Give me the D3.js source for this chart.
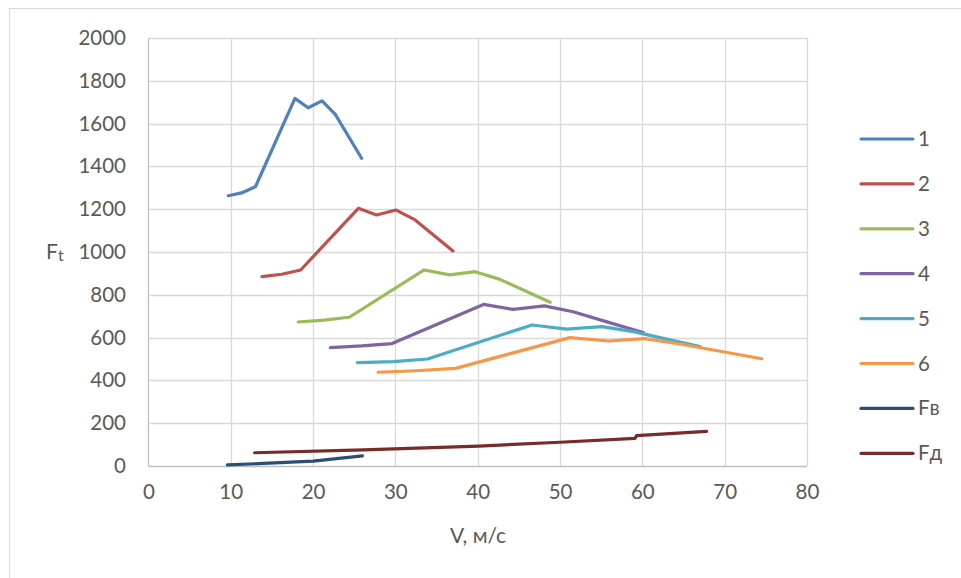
<!DOCTYPE html>
<html>
<head>
<meta charset="utf-8">
<script src="https://cdnjs.cloudflare.com/ajax/libs/d3/7.8.5/d3.min.js"></script>
<style>
  body { margin: 0; background: #fff; }
  text { font-family: Lato, "Open Sans", sans-serif; fill: #595959; }
</style>
</head>
<body>
<div id="chart"></div>
<script>
// series values: [V, Ft]
var s1 = [[9.7,1263],[11.3,1276],[13.0,1305],[17.8,1718],[19.4,1674],[21.1,1706],[22.7,1643],[25.9,1438]];
var s2 = [[13.8,885],[16.2,896],[18.5,916],[25.5,1204],[27.7,1173],[30.1,1196],[32.4,1150],[37.0,1005]];
var s3 = [[18.2,673],[21.3,682],[24.4,695],[33.5,916],[36.6,893],[39.7,908],[42.7,872],[48.8,765]];
var s4 = [[22.1,553],[25.9,561],[29.6,572],[40.7,755],[44.3,732],[48.1,748],[51.6,721],[55.9,671],[60.1,624]];
var s5 = [[25.4,483],[29.8,488],[33.9,500],[46.6,659],[50.8,640],[55.1,651],[58.9,628],[67.0,558]];
var s6 = [[27.9,438],[32.5,445],[37.3,456],[51.2,600],[55.9,584],[60.3,595],[64.6,570],[74.5,501]];
var sFv = [[9.6,5],[14,12],[20,23],[26.0,47]];
var sFd = [[12.9,62],[26.1,75],[40.1,93],[50.0,111],[59.1,129],[59.3,142],[67.8,162]];

var seriesNames = ["1","2","3","4","5","6","Fв","Fд"];
var seriesData = [s1, s2, s3, s4, s5, s6, sFv, sFd];
var colors = ["#4F81BD","#C0504D","#9BBB59","#8064A2","#4BACC6","#F79646","#2C4D75","#772C2A"];
var xTicks = [0,10,20,30,40,50,60,70,80];
var yTicks = [0,200,400,600,800,1000,1200,1400,1600,1800,2000];

var width = 961, height = 578;
var svg = d3.select("#chart").append("svg")
    .attr("width", width)
    .attr("height", height);

// outer chart border (only top/left visible)
svg.append("rect")
    .attr("x", 9.5).attr("y", 8.5)
    .attr("width", 970).attr("height", 590)
    .attr("fill", "none").attr("stroke", "#d9d9d9");

var x = d3.scaleLinear().domain([0, 80]).range([148.4, 807]);
var y = d3.scaleLinear().domain([0, 2000]).range([466, 38]);

// gridlines
svg.append("g").selectAll("line").data(xTicks).enter().append("line")
    .attr("x1", function(d) { return Math.round(x(d)) + 0.5; })
    .attr("x2", function(d) { return Math.round(x(d)) + 0.5; })
    .attr("y1", y(2000)).attr("y2", y(0))
    .attr("stroke", function(d) { return d === 0 ? "#bfbfbf" : "#d9d9d9"; })
    .attr("stroke-width", 1.3);
svg.append("g").selectAll("line").data(yTicks).enter().append("line")
    .attr("x1", x(0)).attr("x2", x(80))
    .attr("y1", function(d) { return Math.round(y(d)) + 0.5; })
    .attr("y2", function(d) { return Math.round(y(d)) + 0.5; })
    .attr("stroke", function(d) { return d === 0 ? "#bfbfbf" : "#d9d9d9"; })
    .attr("stroke-width", 1.3);

// axes (labels only)
var xAxisCall = d3.axisBottom(x).tickValues(xTicks).tickSize(0).tickPadding(0).tickFormat(d3.format("d"));
var xAxis = svg.append("g").attr("transform", "translate(0," + 484 + ")").call(xAxisCall);
var yAxisCall = d3.axisLeft(y).tickValues(yTicks).tickSize(0).tickPadding(0).tickFormat(d3.format("d"));
var yAxis = svg.append("g").attr("transform", "translate(" + 126 + ",0)").call(yAxisCall);
[xAxis, yAxis].forEach(function(a) {
  a.select(".domain").remove();
  a.selectAll("text").attr("font-size", 20.5).attr("font-family", null).style("fill", "#595959");
});

// lines
var line = d3.line()
    .x(function(d) { return x(d[0]); })
    .y(function(d) { return y(d[1]); });

seriesData.forEach(function(s, i) {
  svg.append("path")
      .datum(s)
      .attr("d", line)
      .attr("fill", "none")
      .attr("stroke", colors[i])
      .attr("stroke-width", 3.2)
      .attr("stroke-linejoin", "round")
      .attr("stroke-linecap", "round");
});

// axis titles
svg.append("text")
    .attr("x", 478).attr("y", 543)
    .attr("text-anchor", "middle")
    .attr("font-size", 21)
    .text("V, м/с");
var ft = svg.append("text").attr("x", 46).attr("y", 259).attr("font-size", 21);
ft.append("tspan").text("F");
ft.append("tspan").attr("font-size", 16).attr("dy", 2).text("t");

// legend
var legend = svg.append("g").selectAll("g").data(seriesNames).enter().append("g")
    .attr("transform", function(d, i) { return "translate(0," + (139 + i * 44.9) + ")"; });
legend.append("line")
    .attr("x1", 861).attr("x2", 913)
    .attr("stroke", function(d, i) { return colors[i]; })
    .attr("stroke-width", 3.2)
    .attr("stroke-linecap", "round");
legend.append("text")
    .attr("x", 918).attr("y", 7)
    .attr("font-size", 20.5)
    .text(function(d) { return d; });
</script>
</body>
</html>
